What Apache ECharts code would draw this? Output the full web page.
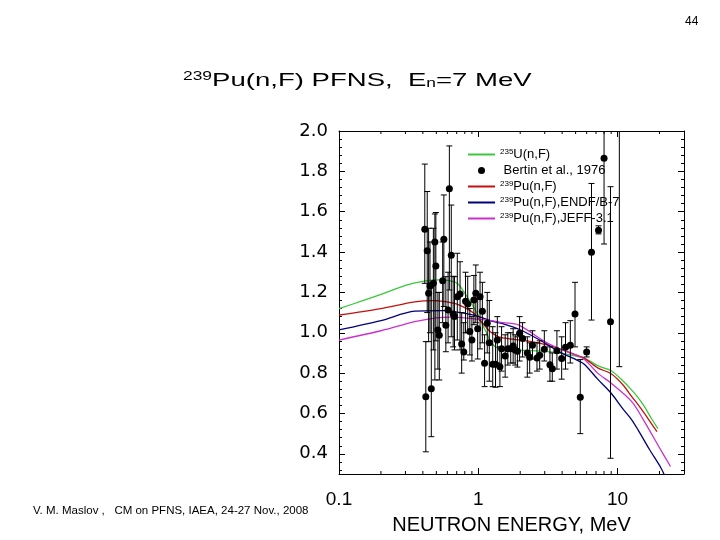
<!DOCTYPE html>
<html><head><meta charset="utf-8">
<script src="https://cdn.jsdelivr.net/npm/echarts@6/dist/echarts.min.js"></script>
<style>html,body{margin:0;padding:0;background:#fff}#c{width:720px;height:540px}</style>
</head><body><div id="c"></div>
<script>
// ---- data ----
const xTickLabels = ['0.1', '1', '10'];
const xMinorTicks = [0.2,0.3,0.4,0.5,0.6,0.7,0.8,0.9,2,3,4,5,6,7,8,9,20];

const u235E = [0.1,0.15,0.2,0.3,0.4,0.52,0.62,0.707,0.83,0.98,1.12,1.25,1.4,1.7,2.2,3.0,4.0,5.2,5.8,7.2,9,11,12.6,14,15.6,17.5,19.5];
const u235V = [1.12,1.16,1.19,1.235,1.255,1.262,1.258,1.245,1.179,1.097,1.014,0.948,0.922,0.915,0.912,0.908,0.898,0.882,0.875,0.837,0.812,0.76,0.717,0.68,0.634,0.575,0.525];

const pu239E = [0.1,0.2,0.35,0.48,0.67,0.8,0.93,1.0,1.1,1.22,1.4,1.56,2.0,2.4,3.0,3.75,5.2,5.8,7.2,9,11,12.6,14,15.6,17.5,19.2];
const pu239V = [1.088,1.12,1.153,1.159,1.146,1.125,1.097,1.07,1.04,1.005,0.98,0.973,0.963,0.956,0.942,0.923,0.887,0.873,0.826,0.797,0.74,0.685,0.645,0.60,0.55,0.51];

const endfE = [0.1,0.2,0.35,0.56,0.93,1.25,1.5,2.0,3.0,3.75,5.2,5.8,7.2,9,11,12.6,14,17,20.5,22.5];
const endfV = [1.014,1.06,1.107,1.11,1.087,1.058,1.045,1.015,0.95,0.908,0.862,0.843,0.77,0.70,0.62,0.57,0.52,0.42,0.33,0.27];

const jeffE = [0.1,0.2,0.35,0.5,0.65,0.9,1.25,1.5,1.94,3.0,4.0,5.2,5.8,7.2,9,12.6,15.6,20,24];
const jeffV = [0.964,1.01,1.055,1.074,1.078,1.07,1.06,1.05,1.039,0.956,0.915,0.885,0.868,0.80,0.75,0.66,0.56,0.43,0.337];

const bertinE  = [0.413,0.42,0.43,0.44,0.45,0.46,0.476,0.488,0.496,0.513,0.525,0.555,0.566,0.585,0.607,0.62,0.64,0.66,0.675,0.707,0.74,0.76,0.787,0.81,0.84,0.87,0.90,0.93,0.96,0.99,1.03,1.07,1.11,1.16,1.20,1.27,1.33,1.37,1.43,1.47,1.56,1.63,1.71,1.78,1.84,1.91,1.98,2.08,2.25,2.34,2.45,2.64,2.76,2.98,3.27,3.40,3.67,3.97,4.23,4.58,4.95,5.4,6.0,6.5,7.3,8.0,8.9,10.3];
const bertinV  = [1.513,0.683,1.407,1.196,1.232,0.723,1.245,1.45,1.331,1.014,0.988,1.258,1.463,1.037,1.113,1.714,1.384,1.093,1.08,1.179,1.192,0.944,0.905,1.156,1.143,1.006,0.964,1.163,1.196,1.02,1.179,1.107,0.849,1.047,0.951,0.844,0.844,0.964,0.832,0.921,0.885,0.921,0.921,0.935,0.915,0.908,0.997,0.972,0.90,0.879,0.938,0.875,0.889,0.918,0.842,0.822,0.911,0.872,0.928,0.938,1.093,0.68,0.905,1.399,1.508,1.865,1.055,2.3];
const bertinLo = [1.245,0.41,1.10,0.956,1.00,0.485,0.915,0.766,0.96,0.82,0.766,1.05,1.13,0.906,0.95,1.212,0.98,0.93,0.915,0.964,0.915,0.80,0.865,1.00,1.00,0.89,0.86,1.04,1.05,0.87,0.92,0.95,0.733,0.90,0.76,0.733,0.73,0.85,0.733,0.81,0.78,0.84,0.85,0.85,0.84,0.83,0.86,0.88,0.78,0.80,0.87,0.81,0.82,0.86,0.76,0.76,0.82,0.77,0.82,0.85,0.93,0.50,0.88,1.063,1.49,1.44,0.378,0.832];
const bertinHi = [1.836,0.956,1.70,1.518,1.45,1.247,1.518,1.589,1.596,1.20,1.20,1.45,1.683,1.278,1.30,1.926,1.633,1.28,1.278,1.394,1.352,1.10,1.05,1.30,1.28,1.12,1.08,1.284,1.336,1.17,1.30,1.25,0.99,1.20,1.16,1.03,1.00,1.08,0.93,1.03,0.99,1.00,1.00,1.02,0.99,0.98,1.08,1.05,0.98,0.95,1.01,0.95,0.96,1.01,0.93,0.90,1.01,0.98,1.05,1.06,1.25,0.867,0.93,1.74,1.53,2.1,1.724,2.6];

const legendNames = ['235U(n,F)', 'Bertin et al., 1976', '239Pu(n,F)', '239Pu(n,F),ENDF/B-7', '239Pu(n,F),JEFF-3.1'];
const legendRich = {
  '235U(n,F)': '{sup|235}U(n,F)',
  'Bertin et al., 1976': ' Bertin et al., 1976',
  '239Pu(n,F)': '{sup|239}Pu(n,F)',
  '239Pu(n,F),ENDF/B-7': '{sup|239}Pu(n,F),ENDF/B-7',
  '239Pu(n,F),JEFF-3.1': '{sup|239}Pu(n,F),JEFF-3.1'
};

const pairs = (xs, ys) => xs.map((x, i) => [x, ys[i]]);

const chart = echarts.init(document.getElementById('c'), null, {renderer: 'canvas'});

const axLine = {show: true, lineStyle: {color: '#000', width: 1}};
const xBase = {
  type: 'log', logBase: 10, min: 0.1, max: 30,
  axisLine: axLine, splitLine: {show: false},
  axisTick: {show: true, inside: true, length: 6, lineStyle: {color: '#000'}}
};
const yBase = {
  type: 'value', min: 0.3, max: 2.0, splitNumber: 8,
  axisLine: axLine, splitLine: {show: false},
  axisTick: {show: true, inside: true, length: 6, lineStyle: {color: '#000'}},
  minorTick: {show: true, splitNumber: 5, length: 3, lineStyle: {color: '#000'}}
};

const lineSeries = (name, xs, ys, color) => ({
  name, type: 'line', data: pairs(xs, ys), symbol: 'none', smooth: 0.3,
  lineStyle: {color, width: 1.3}, itemStyle: {color}, clip: true, z: 3
});

const legendData = legendNames.map(n => n.startsWith('Bertin')
  ? {name: n}
  : {name: n, itemStyle: {opacity: 0}});

chart.setOption({
  animation: false,
  backgroundColor: '#fff',
  grid: {left: 339, right: 36, top: 131, bottom: 66},
  xAxis: [
    Object.assign({}, xBase, {
      position: 'bottom',
      name: 'NEUTRON ENERGY, MeV', nameLocation: 'middle', nameGap: 41,
      nameTextStyle: {fontSize: 20, fontFamily: 'Liberation Sans, Arial', color: '#000'},
      axisLabel: {show: true, margin: 16, fontSize: 19, fontFamily: 'Liberation Sans, Arial', color: '#000',
        showMaxLabel: false,
        formatter: v => { const i = Math.round(Math.log10(v)) + 1; return (Math.abs(Math.log10(v) - Math.round(Math.log10(v))) < 1e-6 && xTickLabels[i]) ? xTickLabels[i] : ''; }}
    }),
    Object.assign({}, xBase, {position: 'top', axisLabel: {show: false}})
  ],
  yAxis: [
    Object.assign({}, yBase, {
      position: 'left',
      axisLabel: {show: true, margin: 11, fontSize: 18, fontFamily: 'DejaVu Sans', color: '#000',
        showMinLabel: false, formatter: v => v.toFixed(1)}
    }),
    Object.assign({}, yBase, {position: 'right', axisLabel: {show: false}})
  ],
  legend: {
    orient: 'vertical', left: 462, top: 143,
    itemWidth: 27, itemHeight: 7, itemGap: 3,
    data: legendData,
    formatter: n => legendRich[n] || n,
    textStyle: {fontSize: 13, fontFamily: 'Liberation Sans, Arial', color: '#000',
      rich: {sup: {fontSize: 8, verticalAlign: 'top', fontFamily: 'Liberation Sans, Arial', color: '#000'}}},
    selectedMode: false
  },
  graphic: [
    {type: 'text', x: 183, y: 71, scaleX: 1.45, scaleY: 1,
      style: {text: '{sup|239}Pu(n,F) PFNS,  E{sub|n}=7 MeV', fontSize: 19, fontFamily: 'Liberation Sans, Arial', fill: '#000',
        rich: {sup: {fontSize: 12, verticalAlign: 'top', fontFamily: 'Liberation Sans, Arial'},
               sub: {fontSize: 12, verticalAlign: 'bottom', fontFamily: 'Liberation Sans, Arial'}}}},
    {type: 'text', x: 33, y: 505, style: {text: 'V. M. Maslov ,   CM on PFNS, IAEA, 24-27 Nov., 2008', fontSize: 11.5, fontFamily: 'Liberation Sans, Arial', fill: '#000'}},
    {type: 'text', x: 685, y: 16, style: {text: '44', fontSize: 12, fontFamily: 'Liberation Sans, Arial', fill: '#000'}}
  ],
  series: [
    lineSeries('235U(n,F)', u235E, u235V, '#3cc83c'),
    {
      name: 'Bertin et al., 1976', type: 'scatter', data: pairs(bertinE, bertinV),
      symbol: 'circle', symbolSize: 7, itemStyle: {color: '#000', opacity: 1}, clip: true, z: 5
    },
    lineSeries('239Pu(n,F)', pu239E, pu239V, '#c41010'),
    lineSeries('239Pu(n,F),ENDF/B-7', endfE, endfV, '#00007a'),
    lineSeries('239Pu(n,F),JEFF-3.1', jeffE, jeffV, '#cc30cc'),
    {
      name: 'errbars', type: 'custom', clip: true, z: 4,
      data: bertinE.map((e, i) => [e, bertinLo[i], bertinHi[i]]),
      encode: {x: 0, y: [1, 2]},
      renderItem: (params, api) => {
        const lo = api.coord([api.value(0), api.value(1)]);
        const hi = api.coord([api.value(0), api.value(2)]);
        const st = {stroke: '#000', lineWidth: 1};
        return {type: 'group', children: [
          {type: 'line', shape: {x1: lo[0], y1: lo[1], x2: hi[0], y2: hi[1]}, style: st},
          {type: 'line', shape: {x1: hi[0] - 3, y1: hi[1], x2: hi[0] + 3, y2: hi[1]}, style: st},
          {type: 'line', shape: {x1: lo[0] - 3, y1: lo[1], x2: lo[0] + 3, y2: lo[1]}, style: st}
        ]};
      }
    },
    {
      name: 'minorticks', type: 'custom', clip: false, z: 2, silent: true,
      data: xMinorTicks.map(v => [v, 1]),
      renderItem: (params, api) => {
        const p = api.coord([api.value(0), 1]);
        const cs = params.coordSys;
        const st = {stroke: '#000', lineWidth: 1};
        return {type: 'group', children: [
          {type: 'line', shape: {x1: p[0], y1: cs.y + cs.height, x2: p[0], y2: cs.y + cs.height - 3}, style: st},
          {type: 'line', shape: {x1: p[0], y1: cs.y, x2: p[0], y2: cs.y + 3}, style: st}
        ]};
      }
    }
  ]
});
</script>
</body></html>
